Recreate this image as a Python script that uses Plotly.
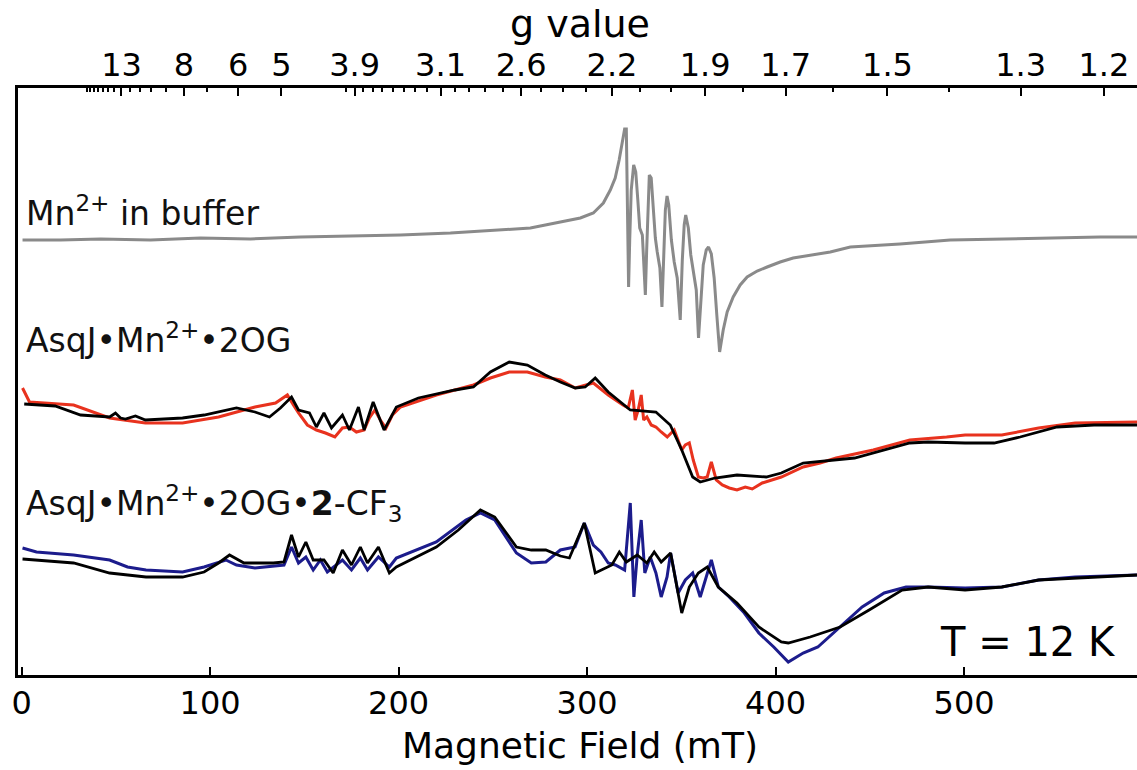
import plotly.graph_objects as go

# ---- g-value axis (top): microwave constant h*nu/muB in mT ----
G_CONST = 689.0
g_major = [13, 8, 6, 5, 3.9, 3.1, 2.6, 2.2, 1.9, 1.7, 1.5, 1.3, 1.2]
g_major_text = ["13", "8", "6", "5", "3.9", "3.1", "2.6", "2.2", "1.9", "1.7", "1.5", "1.3", "1.2"]
g_minor = [20, 19, 18, 17, 16, 15, 14, 12, 11, 10, 9, 7,
           4.0, 3.8, 3.7, 3.6, 3.5, 3.4, 3.3, 3.2, 3.0, 2.9, 2.8, 2.7,
           2.5, 2.4, 2.3, 2.1, 2.0, 1.8, 1.6, 1.4]

field_ticks = [0, 100, 200, 300, 400, 500]

# ---- Mn2+ in buffer (grey) ----
mn_B = [0.5, 20.7, 41.9, 68.4, 94.9, 121.4, 147.9, 174.4, 201, 227.5, 254, 269.9, 285.8, 296.4,
        303.3, 308.6, 312.3, 314.9, 317, 318.7, 319.9, 320.8, 321.3, 322, 322.6, 323.4, 324.7,
        325.8, 326.9, 327.9, 329.3, 330.3, 330.9, 331.6, 332.4, 333, 334, 335.1, 336.2, 337.2,
        338.6, 339.7, 340.7, 341.5, 342.4, 343.3, 344.7, 346.2, 347.8, 349.4, 350.5, 351.5,
        352.3, 353.7, 355, 356.6, 357.9, 359.1, 360.3, 361.6, 363.2, 364.4, 365.9, 367.4, 368.8,
        370.3, 372.2, 374.3, 377.5, 381.2, 384.9, 390.2, 395.5, 402.4, 409.3, 418.3, 429, 439.6,
        466, 492.6, 519, 545.6, 572.1, 591.7]
mn_I = [435, 435, 436, 435, 437, 436, 438, 439, 440, 442, 445, 447, 453, 457,
        462, 472, 485, 497, 515, 535, 546, 546, 495, 388, 435, 485, 510,
        503, 475, 447, 440, 410, 380, 425, 475, 500, 497, 470, 437, 423,
        407, 368, 425, 465, 479, 470, 435, 413, 397, 355, 415, 450,
        460, 447, 420, 400, 385, 337, 375, 410, 425, 428, 421, 397, 360,
        323, 345, 363, 378, 390, 398, 404, 408, 413, 417, 420, 423, 428,
        431, 435, 436, 437, 438, 438]

# ---- AsqJ.Mn2+.2OG experimental (red) ----
og_B = [0.5, 4.2, 27.6, 46.7, 65.7, 85.4, 104.5, 123.8, 134.7, 141, 144.2, 146.9, 151.6, 156.4,
        161.2, 166.2, 170.2, 173.9, 177.6, 181.7, 184.5, 187.4, 190.3, 193.3, 196.7, 201, 220,
        239.7, 248.7, 258.7, 268.3, 277.8, 285.8, 293.7, 303.3, 311.2, 319, 321.8, 324, 325.5,
        327.1, 328.7, 330, 331.7, 334, 336.5, 339.3, 342.5, 346.2, 348.4, 350.2, 352.1, 354.2,
        356.3, 359, 361.6, 363.7, 365.9, 368.5, 371.7, 375.4, 379.5, 383.9, 387.6, 392.9, 403,
        414.6, 423.6, 432.1, 451.8, 471.2, 490.7, 500.5, 520, 539.5, 558.9, 591.7]
og_I = [287, 273, 270, 257, 252, 252, 258, 268, 272, 280, 270, 262, 250, 245,
        242, 238, 247, 248, 243, 245, 257, 265, 255, 247, 260, 268, 280,
        290, 297, 303, 303, 298, 295, 287, 292, 280, 270, 267, 285, 255,
        265, 280, 255, 258, 250, 248, 243, 238, 245, 233, 225, 230, 232,
        215, 198, 197, 198, 213, 195, 190, 187, 185, 188, 186, 192, 198,
        208, 212, 217, 225, 235, 238, 240, 240, 247, 252, 253]

# ---- AsqJ.Mn2+.2OG simulation (black) ----
og_sim_B = [1.4, 17.8, 31.3, 46.7, 49.8, 52.5, 55.1, 60.4, 65.7, 85.4, 96.8, 114, 123.8, 131.5,
            137.3, 143.2, 146.9, 152.7, 156.4, 160.4, 164.4, 170.2, 173.9, 178.7, 181.7, 186.5,
            192.3, 198.8, 210.5, 229.9, 239.7, 248.7, 258.7, 268.3, 277.8, 285.8, 293.7, 299,
            304.3, 311.2, 322.9, 330.9, 336.5, 344.1, 350.2, 356, 360, 367.8, 379.5, 395, 403,
            414.6, 441.9, 471.2, 480.9, 500.5, 515.9, 529.7, 549.3, 568.9, 591.7]
og_sim_I = [271, 269, 260, 258, 262, 257, 256, 259, 255, 257, 260, 267, 263, 258,
            267, 278, 265, 262, 248, 262, 247, 260, 245, 268, 245, 273,
            245, 268, 277, 285, 288, 303, 313, 310, 300, 293, 287, 288,
            297, 283, 265, 264, 263, 250, 225, 198, 193, 197, 200, 198, 202,
            212, 217, 232, 233, 232, 232, 238, 248, 250, 250]

# ---- AsqJ.Mn2+.2OG.2-CF3 experimental (blue) ----
cf_B = [0.5, 7.9, 27.6, 46.7, 56.2, 66, 85.4, 96.8, 108.4, 114, 123.8, 139.2, 143.2, 146.9,
        150.8, 154.7, 158.5, 162.2, 170.2, 175, 179.7, 183.5, 189.3, 195.1, 198.8, 220, 235.7,
        243.4, 251, 262.5, 270.4, 278.1, 285.8, 293.6, 298.5, 303.3, 307.3, 311.2, 315, 319.9,
        322.9, 324.8, 326.6, 328.7, 330.6, 333.5, 336.5, 339.3, 342.4, 344.3, 348.3, 352.1, 356,
        360, 365.9, 369.6, 375.4, 383.4, 391.1, 399, 406.7, 414.6, 422.4, 434.2, 445.9, 457.6,
        469.2, 480.9, 500.5, 520, 539.5, 558.9, 591.7]
cf_I = [127, 123, 120, 115, 108, 105, 103, 108, 115, 110, 107, 110, 128, 112,
        118, 105, 115, 103, 115, 105, 117, 105, 118, 108, 117, 133, 155,
        162, 155, 122, 112, 113, 125, 128, 152, 130, 123, 112, 110, 105,
        172, 78, 120, 155, 102, 118, 102, 78, 98, 122, 82, 95, 102,
        78, 115, 88, 78, 62, 42, 28, 13, 22, 28, 48, 68, 82,
        88, 88, 87, 88, 95, 98, 100]

# ---- AsqJ.Mn2+.2OG.2-CF3 simulation (black) ----
cf_sim_B = [0.5, 27.6, 46.7, 66, 85.4, 96.8, 104.5, 110.3, 118, 133.5, 139.2, 143.2, 146.9,
            150.8, 154.7, 160.4, 165.3, 170.2, 175, 179.7, 183.5, 189.3, 195.1, 198.8, 220,
            231.7, 243.4, 251, 262.5, 270.4, 278.1, 285.8, 290.6, 298.5, 304.3, 313.1, 317.1,
            320.8, 326.6, 331.7, 335.6, 339.3, 344.3, 350.2, 354.2, 359, 363.7, 369.6, 379.5,
            391.1, 403, 406.7, 418.3, 434.2, 449.6, 467.1, 480.9, 500.5, 520, 539.5, 591.7]
cf_sim_I = [116, 112, 102, 98, 98, 103, 112, 120, 112, 112, 113, 140, 118,
            133, 115, 115, 102, 125, 110, 128, 112, 128, 102, 108, 128,
            145, 165, 158, 128, 125, 125, 119, 117, 152, 102, 110, 123,
            113, 120, 112, 123, 113, 122, 62, 88, 102, 108, 88, 72,
            48, 33, 32, 38, 48, 65, 85, 88, 85, 88, 95, 100]

FONT = "DejaVu Sans"

fig = go.Figure()
fig.add_trace(go.Scatter(x=mn_B, y=mn_I, mode="lines", line=dict(color="#8a8a8a", width=3), showlegend=False))
fig.add_trace(go.Scatter(x=og_B, y=og_I, mode="lines", line=dict(color="#e8321e", width=3), showlegend=False))
fig.add_trace(go.Scatter(x=og_sim_B, y=og_sim_I, mode="lines", line=dict(color="black", width=2.8), showlegend=False))
fig.add_trace(go.Scatter(x=cf_B, y=cf_I, mode="lines", line=dict(color="#1c1c8c", width=3), showlegend=False))
fig.add_trace(go.Scatter(x=cf_sim_B, y=cf_sim_I, mode="lines", line=dict(color="black", width=2.8), showlegend=False))
# invisible trace to carry the top g-value axis
fig.add_trace(go.Scatter(x=[G_CONST / g for g in g_major], y=[None] * len(g_major), xaxis="x2",
                         mode="lines", showlegend=False, hoverinfo="skip"))

xr = [-1.9, 591.7]
fig.update_layout(
    width=1137, height=770,
    margin=dict(l=18, r=0, t=88, b=95),
    paper_bgcolor="white", plot_bgcolor="white",
    font=dict(family=FONT, color="black"),
    xaxis=dict(range=xr, tickmode="array", tickvals=field_ticks,
               ticktext=[str(v) for v in field_ticks],
               ticks="inside", ticklen=8, tickwidth=2, tickcolor="black",
               showline=True, linecolor="black", linewidth=2.5,
               showgrid=False, zeroline=False,
               tickfont=dict(size=32, family=FONT), ticklabelstandoff=-2),
    xaxis2=dict(range=xr, overlaying="x", side="top", tickmode="array",
                tickvals=[G_CONST / g for g in g_major], ticktext=g_major_text,
                ticks="inside", ticklen=8, tickwidth=2, tickcolor="black",
                minor=dict(tickmode="array", tickvals=[G_CONST / g for g in g_minor],
                           ticks="inside", ticklen=4, tickwidth=2, tickcolor="black", showgrid=False),
                showline=True, linecolor="black", linewidth=2.5,
                showgrid=False, zeroline=False,
                tickfont=dict(size=32, family=FONT), ticklabelstandoff=-4),
    yaxis=dict(range=[0, 587], showline=True, linecolor="black", linewidth=2.5,
               ticks="", showticklabels=False, showgrid=False, zeroline=False),
)

# axis titles and temperature note (paper coordinates)
fig.add_annotation(x=297 / 591.7, y=(675 - 745) / 587, xref="paper", yref="paper", text="Magnetic Field (mT)",
                   showarrow=False, xanchor="center", yanchor="middle",
                   font=dict(size=36, family=FONT, color="black"))
fig.add_annotation(x=297 / 591.7, y=(675 - 24) / 587, xref="paper", yref="paper", text="g value",
                   showarrow=False, xanchor="center", yanchor="middle",
                   font=dict(size=38, family=FONT, color="black"))
fig.add_annotation(x=533.7, y=33.5, xref="x", yref="y", text="T = 12 K", showarrow=False,
                   xanchor="center", yanchor="middle", font=dict(size=40, family=FONT, color="black"))

labels = [
    (464, "Mn<sup>2+</sup> in buffer"),
    (337, "AsqJ•Mn<sup>2+</sup>•2OG"),
    (172, "AsqJ•Mn<sup>2+</sup>•2OG•<b>2</b>-CF<sub>3</sub>"),
]
for yv, txt in labels:
    fig.add_annotation(x=1.5, y=yv, xref="x", yref="y", text=txt, showarrow=False,
                       xanchor="left", yanchor="middle", font=dict(size=33, family=FONT, color="#111111"))

fig.write_html("out.html", config={"displayModeBar": False},
               post_script="document.body.style.margin='0px';document.body.style.padding='0px';")
